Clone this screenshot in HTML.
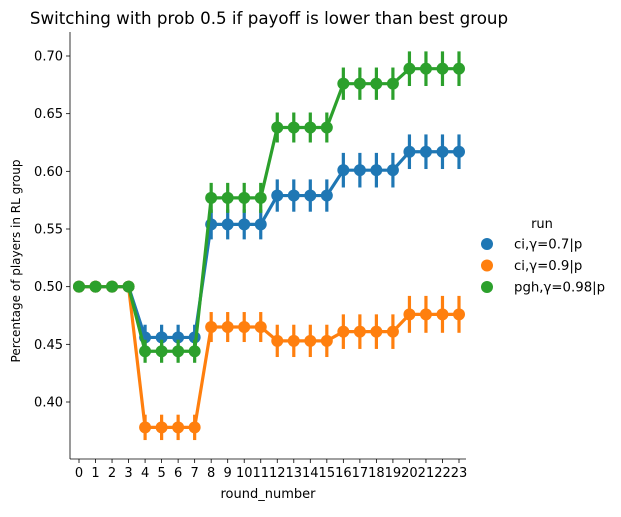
<!DOCTYPE html>
<html><head><meta charset="utf-8"><style>
body{margin:0;background:#fff;}
svg text{font-family:"DejaVu Sans","Liberation Sans",sans-serif;}
</style></head><body>
<svg id="chart" width="621" height="512" xmlns="http://www.w3.org/2000/svg">
<text x="269" y="24" font-size="16.7" text-anchor="middle">Switching with prob 0.5 if payoff is lower than best group</text>
<g id="axes"></g>
<g id="marks"></g>
<text x="268" y="498" font-size="13" text-anchor="middle">round_number</text>
<text transform="translate(20,261) rotate(-90)" font-size="12" text-anchor="middle">Percentage of players in RL group</text>
<g>
<text x="542" y="228" font-size="13" text-anchor="middle">run</text>
<g id="legend"></g>
</g>
</svg>
<script>
const rounds=[0,1,2,3,4,5,6,7,8,9,10,11,12,13,14,15,16,17,18,19,20,21,22,23];
const seriesNames=["ci,γ=0.7|p","ci,γ=0.9|p","pgh,γ=0.98|p"];
const blueVals=[0.5,0.5,0.5,0.5,0.456,0.456,0.456,0.456,0.554,0.554,0.554,0.554,0.579,0.579,0.579,0.579,0.601,0.601,0.601,0.601,0.617,0.617,0.617,0.617];
const orangeVals=[0.5,0.5,0.5,0.5,0.378,0.378,0.378,0.378,0.465,0.465,0.465,0.465,0.453,0.453,0.453,0.453,0.461,0.461,0.461,0.461,0.476,0.476,0.476,0.476];
const greenVals=[0.5,0.5,0.5,0.5,0.444,0.444,0.444,0.444,0.577,0.577,0.577,0.577,0.638,0.638,0.638,0.638,0.676,0.676,0.676,0.676,0.689,0.689,0.689,0.689];
const blueErr=[0,0,0,0,0.011,0.011,0.011,0.011,0.013,0.013,0.013,0.013,0.014,0.014,0.014,0.014,0.015,0.015,0.015,0.015,0.015,0.015,0.015,0.015];
const orangeErr=[0,0,0,0,0.011,0.011,0.011,0.011,0.013,0.013,0.013,0.013,0.014,0.014,0.014,0.014,0.015,0.015,0.015,0.015,0.016,0.016,0.016,0.016];
const greenErr=[0,0,0,0,0.010,0.010,0.010,0.010,0.013,0.013,0.013,0.013,0.013,0.013,0.013,0.013,0.014,0.014,0.014,0.014,0.015,0.015,0.015,0.015];
const yTicks=[0.40,0.45,0.50,0.55,0.60,0.65,0.70];
const colors=["#1f77b4","#ff7f0e","#2ca02c"];
const NS="http://www.w3.org/2000/svg";
const L=70,R=466,T=32,B=459;
function xs(i){return 79+(459-79)*i/23;}
function ys(v){return 402-(v-0.40)*(402-56)/0.30;}
function mk(tag,attrs,parent){const e=document.createElementNS(NS,tag);for(const k in attrs)e.setAttribute(k,attrs[k]);parent.appendChild(e);return e;}
const ax=document.getElementById('axes');
const la=mk('line',{x1:L,y1:T,x2:L,y2:B,stroke:'#000','stroke-width':0.8},ax);


const lb=mk('line',{x1:L,y1:B,x2:R,y2:B,stroke:'#000','stroke-width':0.8},ax);


yTicks.forEach(t=>{const y=ys(t);
 mk('line',{x1:L-4,y1:y,x2:L,y2:y,stroke:'#000','stroke-width':0.8},ax);
 const tx=mk('text',{x:L-7,y:y+4.5,'font-size':13,'text-anchor':'end'},ax);tx.textContent=t.toFixed(2);
 
 });
rounds.forEach((r,i)=>{const x=xs(i);
 mk('line',{x1:x,y1:B,x2:x,y2:B+4,stroke:'#000','stroke-width':0.8},ax);
 const tx=mk('text',{x:x,y:B+18,'font-size':13,'text-anchor':'middle'},ax);tx.textContent=r;
 
 });
const mg=document.getElementById('marks');
const allVals=[blueVals,orangeVals,greenVals],allErr=[blueErr,orangeErr,greenErr];
allVals.forEach((vals,s)=>{
 const g=mk('g',{},mg);
 
 
 vals.forEach((v,i)=>{const e=allErr[s][i];
  if(e>0){const l=mk('line',{x1:xs(i),x2:xs(i),y1:ys(v-e),y2:ys(v+e),stroke:colors[s],'stroke-width':3.2},g);
  
  }});
 const p=mk('polyline',{points:vals.map((v,i)=>xs(i)+','+ys(v)).join(' '),fill:'none',stroke:colors[s],'stroke-width':3.2},g);
 
 
 vals.forEach((v,i)=>{const c=mk('circle',{cx:xs(i),cy:ys(v),r:6,fill:colors[s]},g);
  
  });
});
const lg=document.getElementById('legend');
seriesNames.forEach((n,s)=>{const y=244+s*21.5;
 const c=mk('circle',{cx:487,cy:y,r:6,fill:colors[s]},lg);
 
 
 const t=mk('text',{x:514,y:y+4.5,'font-size':13.3},lg);t.textContent=n;
 
 });
</script>
</body></html>
